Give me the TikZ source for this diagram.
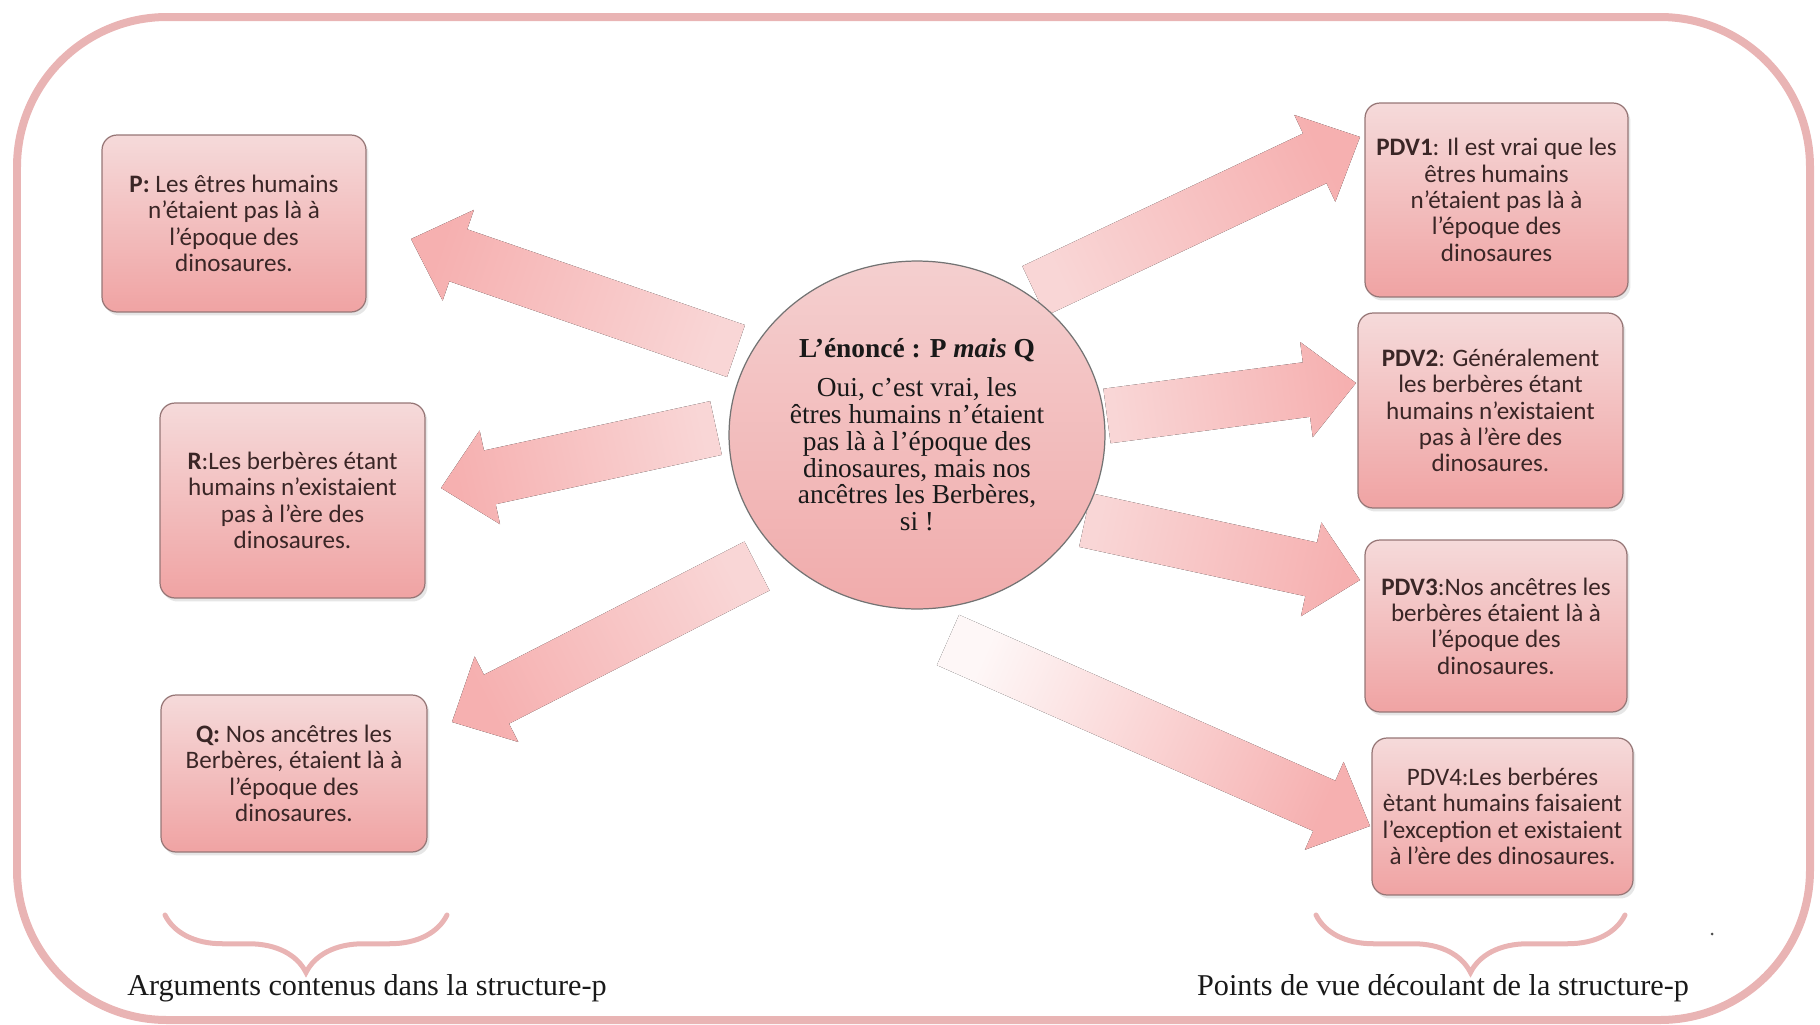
\documentclass[tikz,border=0pt]{standalone}
\usepackage{fontspec}
\setmainfont{Liberation Serif}
\newfontfamily\calibri{Carlito}
\usetikzlibrary{calc,shapes.geometric,decorations.pathreplacing,shadows}

\definecolor{cadre}{RGB}{233,180,180}
\definecolor{boitehaut}{RGB}{245,218,218}
\definecolor{boitebas}{RGB}{240,163,163}
\definecolor{bord}{RGB}{150,118,118}
\definecolor{texte}{RGB}{58,38,38}
\definecolor{flechequeue}{RGB}{249,214,214}
\definecolor{flechetete}{RGB}{246,176,176}

% block arrow, #2 = tail, #3 = tip
\newcommand\fleche[3][]{%
  \pgfmathanglebetweenpoints{\pgfpointanchor{#2}{center}}{\pgfpointanchor{#3}{center}}%
  \pgfmathsetmacro\angfl{\pgfmathresult+90}%
  \coordinate (fb) at ($(#3)!1cm!(#2)$);
  \fill[fleche,#1,shading angle=\angfl]
    ($(#2)!0.55cm!90:(#3)$) -- ($(fb)!0.55cm!90:(#3)$) -- ($(fb)!0.96cm!90:(#3)$)
    -- (#3) -- ($(fb)!0.96cm!-90:(#3)$) -- ($(fb)!0.55cm!-90:(#3)$)
    -- ($(#2)!0.55cm!-90:(#3)$) -- cycle;
}

\begin{document}
\begin{tikzpicture}[x=0.02cm,y=-0.02cm,
   boite/.style={rectangle,rounded corners=0.3cm,draw=bord,line width=0.7pt,
      top color=boitehaut,bottom color=boitebas,align=center,text=texte,
      font=\calibri\fontsize{14.3}{15}\selectfont,inner sep=1pt,
      drop shadow={shadow xshift=0.05cm,shadow yshift=-0.07cm,opacity=0.2}},
   enonce/.style={ellipse,draw=black!55,line width=0.7pt,
      top color=boitehaut!80!boitebas,bottom color=boitebas!85!boitehaut,align=center,
      text=black!90,font=\fontsize{15.6}{15.25}\selectfont,
      minimum width=7.52cm,minimum height=6.96cm,inner sep=0pt},
   fleche/.style={top color=flechequeue,bottom color=flechetete},
   accolade/.style={decorate,decoration={brace,amplitude=1.15cm},
      draw=cadre,line width=0.1cm,line cap=round},
   legende/.style={font=\fontsize{17.2}{19}\selectfont,text=black!90}]
   \useasboundingbox (0,0) rectangle (1820,1025);

   % frame
   \draw[cadre,line width=0.16cm,rounded corners=3cm] (17,17) rectangle (1810,1020);

   % arrows from the statement
   \coordinate (qP) at (736,351);  \coordinate (pP) at (411,239);
   \coordinate (qR) at (716,428);  \coordinate (pR) at (441,488);
   \coordinate (qQ) at (757,566);  \coordinate (pQ) at (452,722);
   \coordinate (q1) at (1034,291); \coordinate (p1) at (1360,137);
   \coordinate (q2) at (1107,416); \coordinate (p2) at (1356,383);
   \coordinate (q3) at (1085,520); \coordinate (p3) at (1360,580);
   \coordinate (q4) at (948,640);  \coordinate (p4) at (1370,826);
   \fleche{qP}{pP}
   \fleche{qR}{pR}
   \fleche{qQ}{pQ}
   \fleche{q1}{p1}
   \fleche{q2}{p2}
   \fleche{q3}{p3}
   \fleche[top color=white!80!flechequeue]{q4}{p4}

   % the statement
   \node[enonce] (E) at (917,435) {\textbf{L’énoncé : P \textit{mais} Q}\\[0.24cm]
      Oui, c’est vrai, les\\ êtres humains n’étaient\\ pas là à l’époque des\\
      dinosaures, mais nos\\ ancêtres les Berbères,\\ si !};

   % arguments (left)
   \node[boite,minimum width=5.28cm,minimum height=3.54cm] (P) at (234,223.5)
      {\textbf{P:} Les êtres humains\\ n’étaient pas là à\\ l’époque des\\ dinosaures.};
   \node[boite,minimum width=5.3cm,minimum height=3.9cm] (R) at (292.5,500.5)
      {\textbf{R}:Les berbères étant\\ humains n’existaient\\ pas à l’ère des\\ dinosaures.};
   \node[boite,minimum width=5.32cm,minimum height=3.14cm] (Q) at (294,773.5)
      {\textbf{Q:} Nos ancêtres les\\ Berbères, étaient là à\\ l’époque des\\ dinosaures.};

   % points de vue (right)
   \node[boite,minimum width=5.26cm,minimum height=3.88cm] (V1) at (1496.5,200)
      {\textbf{PDV1}: Il est vrai que les\\ êtres humains\\ n’étaient pas là à\\ l’époque des\\ dinosaures};
   \node[boite,minimum width=5.3cm,minimum height=3.9cm] (V2) at (1490.5,410.5)
      {\textbf{PDV2}: Généralement\\ les berbères étant\\ humains n’existaient\\ pas à l’ère des\\ dinosaures.};
   \node[boite,minimum width=5.24cm,minimum height=3.44cm] (V3) at (1496,626)
      {\textbf{PDV3}:Nos ancêtres les\\ berbères étaient là à\\ l’époque des\\ dinosaures.};
   \node[boite,minimum width=5.22cm,minimum height=3.14cm] (V4) at (1502.5,816.5)
      {PDV4:Les berbéres\\ ètant humains faisaient\\ l’exception et existaient\\ à l’ère des dinosaures.};

   % braces and captions
   \draw[accolade] (447,915) -- (165,915);
   \draw[accolade] (1625,915) -- (1316,915);
   \node[legende] (argL) at (367,988) {Arguments contenus dans la structure-p};
   \node[legende] (pdvL) at (1443,988) {Points de vue découlant de la structure-p};
   \fill[black!70] (1712,934) circle (1.5);
\end{tikzpicture}
\end{document}
